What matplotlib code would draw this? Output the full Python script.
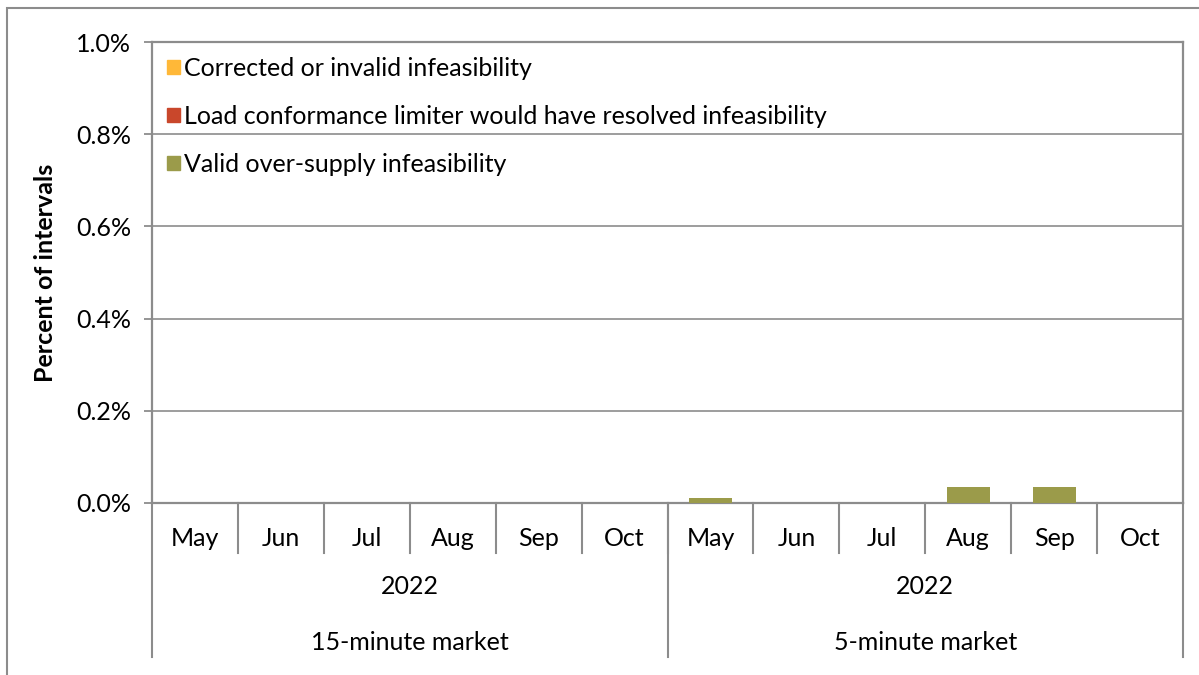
import matplotlib
matplotlib.use("Agg")
import matplotlib.pyplot as plt
import matplotlib.patches as mpatches
from matplotlib.lines import Line2D
from matplotlib.ticker import FuncFormatter
import numpy as np

plt.rcParams["font.family"] = ["Lato", "DejaVu Sans"]

# ── data ──
months = ["May", "Jun", "Jul", "Aug", "Sep", "Oct"]
years = ["2022", "2022"]
markets = ["15-minute market", "5-minute market"]
series_names = ["Corrected or invalid infeasibility",
                "Load conformance limiter would have resolved infeasibility",
                "Valid over-supply infeasibility"]
corrected = [0, 0, 0, 0, 0, 0, 0, 0, 0, 0, 0, 0]
load_conf = [0, 0, 0, 0, 0, 0, 0, 0, 0, 0, 0, 0]
valid = [0, 0, 0, 0, 0, 0, 0.0115, 0, 0, 0.035, 0.0355, 0]
colors = ["#FFB838", "#C9472B", "#9B9B4A"]

W, H = 1199, 675
FS = 18
fig = plt.figure(figsize=(W / 100, H / 100), dpi=100)
ax = fig.add_axes([152 / W, (H - 503) / H, (1183 - 152) / W, (503 - 42) / H])

grey = "#8C8C8C"
n = len(valid)
x = np.arange(n)
bottom = np.zeros(n)
# stacked from bottom: valid, load, corrected
for vals, col in [(valid, colors[2]), (load_conf, colors[1]), (corrected, colors[0])]:
    ax.bar(x, vals, width=0.5, bottom=bottom, color=col, zorder=3)
    bottom += np.array(vals)

ax.set_xlim(-0.5, n - 0.5)
ax.set_ylim(0, 1.0)
ax.set_yticks(np.arange(0, 1.01, 0.2))
ax.yaxis.set_major_formatter(FuncFormatter(lambda v, _: f"{v:.1f}%"))
ax.set_xticks([])
ax.tick_params(axis="y", length=6, width=1.3, color=grey, labelsize=FS, pad=9)
ax.grid(axis="y", color=grey, lw=1.2, zorder=0)
for s in ax.spines.values():
    s.set_color(grey)
    s.set_linewidth(1.6)
ax.set_ylabel("Percent of intervals", fontsize=FS, fontweight="bold", labelpad=14)

# multi-level category axis
trans = ax.get_xaxis_transform()
py = lambda ypx: (503 - ypx) / (503 - 42)
for i in range(1, n):
    ax.add_line(Line2D([i - 0.5, i - 0.5], [0, py(553)], transform=trans,
                       color=grey, lw=1.5, clip_on=False))
for xb in [-0.5, 5.5, 11.5]:
    ax.add_line(Line2D([xb, xb], [0, py(657)], transform=trans,
                       color=grey, lw=1.5, clip_on=False))
for i in range(n):
    ax.text(i, py(538), months[i % 6], transform=trans, ha="center", va="center", fontsize=FS)
for g in range(2):
    ax.text(2.5 + 6 * g, py(587), years[g], transform=trans, ha="center", va="center", fontsize=FS)
    ax.text(2.5 + 6 * g, py(643), markets[g], transform=trans, ha="center", va="center", fontsize=FS)

# legend
handles = [mpatches.Patch(color=c, label=l) for c, l in zip(colors, series_names)]
ax.legend(handles=handles, loc="upper left", bbox_to_anchor=(0.0, 1.0), frameon=False,
          fontsize=FS, handlelength=0.5, handleheight=0.5, handletextpad=0.2,
          labelspacing=1.0, borderaxespad=0.1, borderpad=0.5)

# outer chart border
fig.add_artist(mpatches.Rectangle((7 / W, -0.1), 1.2, (H - 8) / H + 0.1,
                                  transform=fig.transFigure, fill=False,
                                  edgecolor=grey, lw=1.5))

fig.savefig("out.png", dpi=100)
